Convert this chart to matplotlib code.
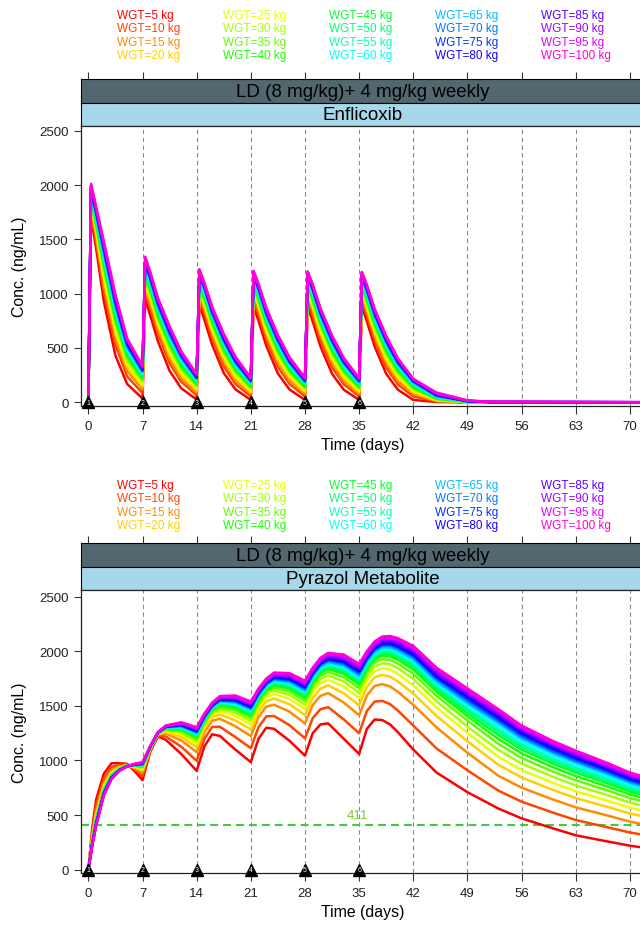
import colorsys
import numpy as np
import matplotlib
matplotlib.use('Agg')
import matplotlib.pyplot as plt

plt.rcParams['font.family'] = ['Liberation Sans', 'DejaVu Sans']

# ---- data ----
weights = [5, 10, 15, 20, 25, 30, 35, 40, 45, 50, 55, 60, 65, 70, 75, 80, 85, 90, 95, 100]
dose_days = [0, 7, 14, 21, 28, 35]
regimen = 'LD (8 mg/kg)+ 4 mg/kg weekly'
drugs = ['Enflicoxib', 'Pyrazol Metabolite']
met_ref = 411

# Enflicoxib, one row per time point, one column per weight
enf_days = [0, 0.35, 1, 2, 3.5, 5, 7, 7.35, 8, 9, 10.5, 12, 14, 14.35, 15, 16, 17.5, 19, 21,
            21.35, 22, 23, 24.5, 26, 28, 28.35, 29, 30, 31.5, 33, 35, 35.35, 36, 37, 38.5, 40, 42,
            45, 49, 52, 80]
enf_conc = [
    [0] * 20,
    [1700, 1750, 1790, 1820, 1840, 1860, 1870, 1890, 1900, 1920, 1930, 1940, 1950, 1960, 1970, 1980, 1990, 1990, 2000, 2010],
    [1420, 1480, 1530, 1560, 1590, 1610, 1630, 1650, 1670, 1690, 1700, 1710, 1730, 1740, 1750, 1760, 1770, 1780, 1790, 1800],
    [930, 1020, 1080, 1130, 1170, 1210, 1240, 1270, 1290, 1320, 1340, 1350, 1380, 1390, 1410, 1430, 1440, 1450, 1470, 1480],
    [430, 530, 590, 640, 680, 720, 740, 770, 800, 820, 840, 860, 880, 900, 920, 930, 950, 960, 980, 990],
    [170, 240, 290, 330, 360, 380, 410, 430, 450, 460, 480, 490, 510, 520, 540, 550, 560, 570, 580, 590],
    [35, 85, 120, 145, 165, 190, 205, 220, 235, 245, 255, 265, 280, 285, 295, 305, 310, 320, 330, 335],
    [950, 1020, 1060, 1090, 1120, 1150, 1170, 1190, 1210, 1220, 1240, 1250, 1270, 1280, 1290, 1300, 1310, 1320, 1330, 1340],
    [800, 870, 910, 950, 980, 1000, 1020, 1040, 1060, 1080, 1100, 1110, 1120, 1140, 1150, 1160, 1170, 1180, 1190, 1200],
    [560, 630, 670, 710, 740, 760, 780, 800, 820, 840, 860, 870, 880, 900, 910, 920, 930, 940, 950, 960],
    [290, 360, 400, 440, 470, 500, 520, 540, 560, 580, 590, 610, 620, 630, 650, 660, 670, 680, 690, 700],
    [130, 190, 220, 260, 280, 300, 320, 340, 350, 370, 380, 390, 410, 420, 430, 440, 440, 450, 460, 470],
    [25, 65, 90, 110, 130, 145, 155, 170, 180, 190, 200, 205, 215, 220, 230, 235, 240, 250, 255, 260],
    [900, 960, 990, 1020, 1040, 1070, 1080, 1100, 1120, 1130, 1140, 1150, 1160, 1170, 1180, 1190, 1200, 1210, 1220, 1225],
    [760, 820, 860, 890, 910, 930, 950, 970, 980, 1000, 1010, 1020, 1040, 1050, 1060, 1070, 1070, 1080, 1090, 1100],
    [530, 590, 630, 660, 680, 710, 730, 740, 760, 780, 790, 800, 810, 820, 840, 850, 850, 860, 870, 880],
    [270, 330, 370, 400, 430, 450, 470, 490, 510, 520, 540, 550, 560, 570, 580, 590, 600, 610, 620, 630],
    [120, 170, 200, 230, 250, 270, 290, 300, 320, 330, 340, 350, 360, 370, 380, 390, 400, 405, 415, 420],
    [22, 55, 80, 95, 110, 125, 135, 145, 155, 165, 170, 180, 185, 195, 200, 205, 210, 215, 220, 225],
    [880, 940, 980, 1010, 1030, 1050, 1070, 1090, 1100, 1120, 1130, 1140, 1150, 1160, 1170, 1180, 1190, 1195, 1205, 1210],
    [750, 810, 850, 880, 900, 920, 940, 960, 970, 990, 1000, 1010, 1030, 1040, 1050, 1060, 1060, 1070, 1080, 1090],
    [520, 580, 620, 650, 670, 700, 720, 730, 750, 770, 780, 790, 800, 810, 830, 840, 840, 850, 860, 870],
    [265, 325, 365, 395, 420, 445, 465, 480, 500, 515, 530, 540, 555, 565, 575, 585, 590, 600, 610, 620],
    [118, 170, 200, 228, 250, 270, 285, 300, 315, 325, 338, 347, 358, 368, 376, 385, 391, 400, 409, 415],
    [22, 55, 80, 95, 110, 125, 135, 145, 155, 165, 170, 180, 185, 195, 200, 205, 210, 215, 220, 225],
    [880, 940, 980, 1010, 1030, 1050, 1065, 1085, 1100, 1115, 1125, 1135, 1150, 1160, 1170, 1178, 1185, 1192, 1200, 1205],
    [745, 805, 845, 875, 900, 920, 935, 955, 970, 985, 1000, 1010, 1025, 1035, 1045, 1055, 1060, 1070, 1078, 1085],
    [515, 575, 615, 645, 670, 695, 715, 730, 745, 765, 775, 785, 800, 810, 825, 835, 840, 850, 858, 865],
    [262, 322, 362, 392, 418, 442, 462, 478, 496, 512, 526, 537, 552, 562, 572, 582, 588, 598, 607, 615],
    [117, 168, 198, 226, 248, 268, 283, 298, 312, 323, 335, 344, 355, 365, 373, 382, 388, 396, 404, 410],
    [22, 55, 78, 95, 108, 123, 133, 143, 153, 162, 170, 177, 184, 192, 198, 204, 208, 213, 218, 222],
    [880, 940, 975, 1005, 1025, 1045, 1060, 1080, 1095, 1110, 1120, 1130, 1145, 1155, 1165, 1175, 1182, 1190, 1196, 1200],
    [745, 800, 840, 870, 895, 915, 930, 950, 965, 980, 995, 1005, 1020, 1030, 1040, 1050, 1056, 1066, 1074, 1080],
    [515, 575, 610, 640, 665, 690, 710, 725, 740, 760, 770, 780, 795, 805, 820, 830, 835, 845, 853, 860],
    [262, 320, 360, 390, 415, 440, 460, 475, 493, 508, 522, 533, 548, 558, 568, 578, 585, 595, 603, 610],
    [117, 165, 196, 224, 245, 265, 280, 295, 308, 320, 332, 341, 352, 362, 370, 379, 385, 393, 400, 405],
    [22, 54, 77, 94, 107, 121, 131, 141, 151, 160, 168, 175, 182, 190, 196, 202, 206, 210, 213, 215],
    [3, 8, 13, 18, 22, 27, 31, 35, 40, 44, 48, 52, 56, 60, 64, 68, 73, 78, 84, 90],
    [0, 0, 1, 1, 2, 2, 3, 4, 5, 6, 7, 8, 9, 10, 11, 12, 13, 15, 16, 18],
    [0, 0, 0, 0, 0, 0, 0, 0, 1, 1, 1, 1, 2, 2, 2, 3, 3, 4, 4, 5],
    [0] * 20,
]

# Pyrazol metabolite, same layout
met_days = [0, 0.5, 1, 2, 3, 4, 5, 6, 7, 8, 9, 10, 12, 14, 15, 16, 17, 19, 21, 22, 23, 24, 26, 28,
            29, 30, 31, 33, 35, 36, 37, 38, 39, 40, 42, 45, 49, 53, 56, 60, 63, 67, 70, 75]
met_conc = [
    [0] * 20,
    [380, 343, 311, 294, 281, 271, 263, 257, 254, 250, 247, 244, 241, 238, 235, 233, 230, 226, 223, 220],
    [640, 585, 537, 510, 491, 477, 465, 455, 450, 446, 441, 436, 431, 426, 423, 419, 414, 410, 405, 400],
    [880, 834, 794, 772, 756, 744, 734, 726, 722, 718, 714, 710, 706, 702, 699, 696, 692, 688, 684, 680],
    [975, 942, 913, 897, 885, 876, 869, 863, 860, 858, 855, 852, 849, 846, 844, 842, 839, 836, 833, 830],
    [975, 959, 945, 937, 932, 927, 924, 921, 920, 918, 917, 915, 914, 913, 912, 911, 909, 908, 906, 905],
    [970, 964, 959, 956, 955, 953, 952, 951, 950, 950, 949, 949, 948, 948, 947, 947, 947, 946, 946, 945],
    [900, 916, 930, 938, 943, 948, 951, 954, 955, 957, 958, 960, 961, 962, 963, 964, 966, 967, 969, 970],
    [820, 858, 891, 909, 922, 932, 940, 947, 950, 954, 957, 960, 964, 967, 969, 972, 975, 978, 982, 985],
    [1080, 1092, 1102, 1107, 1111, 1114, 1117, 1119, 1120, 1121, 1122, 1123, 1124, 1125, 1125, 1126, 1127, 1128, 1129, 1130],
    [1220, 1229, 1237, 1242, 1245, 1247, 1249, 1251, 1252, 1252, 1253, 1254, 1255, 1256, 1256, 1257, 1258, 1258, 1259, 1260],
    [1190, 1220, 1246, 1260, 1271, 1278, 1285, 1290, 1293, 1295, 1298, 1301, 1303, 1306, 1308, 1310, 1312, 1315, 1317, 1320],
    [1060, 1127, 1185, 1217, 1240, 1257, 1272, 1283, 1289, 1295, 1301, 1307, 1312, 1318, 1322, 1327, 1333, 1338, 1344, 1350],
    [905, 997, 1077, 1121, 1153, 1177, 1197, 1213, 1221, 1229, 1237, 1245, 1253, 1261, 1267, 1273, 1281, 1289, 1297, 1305],
    [1130, 1199, 1259, 1292, 1316, 1334, 1349, 1361, 1367, 1373, 1379, 1385, 1391, 1397, 1402, 1406, 1412, 1418, 1424, 1430],
    [1240, 1307, 1365, 1397, 1420, 1437, 1452, 1463, 1469, 1475, 1481, 1487, 1492, 1498, 1502, 1507, 1513, 1518, 1524, 1530],
    [1225, 1309, 1382, 1422, 1451, 1473, 1491, 1506, 1513, 1521, 1528, 1535, 1543, 1550, 1555, 1561, 1568, 1575, 1583, 1590],
    [1100, 1214, 1313, 1367, 1407, 1437, 1461, 1481, 1491, 1501, 1511, 1521, 1531, 1541, 1548, 1555, 1565, 1575, 1585, 1595],
    [985, 1113, 1224, 1285, 1329, 1362, 1390, 1412, 1423, 1435, 1446, 1457, 1468, 1479, 1487, 1496, 1507, 1518, 1529, 1540],
    [1200, 1306, 1398, 1448, 1485, 1513, 1536, 1554, 1563, 1573, 1582, 1591, 1600, 1609, 1616, 1623, 1632, 1642, 1651, 1660],
    [1300, 1404, 1494, 1543, 1579, 1606, 1629, 1647, 1656, 1665, 1674, 1683, 1692, 1701, 1707, 1714, 1723, 1732, 1741, 1750],
    [1290, 1408, 1511, 1568, 1609, 1640, 1666, 1687, 1697, 1707, 1717, 1728, 1738, 1748, 1756, 1764, 1774, 1784, 1795, 1805],
    [1180, 1323, 1447, 1515, 1564, 1602, 1633, 1657, 1670, 1682, 1695, 1707, 1719, 1732, 1741, 1750, 1763, 1775, 1788, 1800],
    [1045, 1203, 1340, 1415, 1470, 1511, 1545, 1572, 1586, 1600, 1614, 1627, 1641, 1655, 1665, 1675, 1689, 1703, 1716, 1730],
    [1250, 1388, 1508, 1574, 1622, 1658, 1688, 1712, 1724, 1736, 1748, 1760, 1772, 1784, 1793, 1802, 1814, 1826, 1838, 1850],
    [1330, 1470, 1592, 1659, 1708, 1745, 1775, 1800, 1812, 1824, 1836, 1849, 1861, 1873, 1882, 1891, 1903, 1916, 1928, 1940],
    [1340, 1488, 1617, 1688, 1740, 1779, 1811, 1837, 1850, 1862, 1875, 1888, 1901, 1914, 1924, 1933, 1946, 1959, 1972, 1985],
    [1200, 1377, 1531, 1616, 1677, 1724, 1762, 1793, 1808, 1824, 1839, 1855, 1870, 1885, 1897, 1908, 1924, 1939, 1955, 1970],
    [1060, 1250, 1415, 1506, 1572, 1621, 1662, 1695, 1712, 1728, 1745, 1761, 1778, 1794, 1807, 1819, 1836, 1852, 1869, 1885],
    [1290, 1453, 1595, 1673, 1730, 1773, 1808, 1837, 1851, 1865, 1879, 1894, 1908, 1922, 1933, 1943, 1957, 1972, 1986, 2000],
    [1375, 1539, 1682, 1761, 1818, 1861, 1897, 1926, 1940, 1954, 1968, 1983, 1997, 2011, 2022, 2033, 2047, 2061, 2076, 2090],
    [1370, 1546, 1699, 1783, 1844, 1890, 1928, 1959, 1974, 1990, 2005, 2020, 2036, 2051, 2062, 2074, 2089, 2104, 2120, 2135],
    [1330, 1516, 1678, 1767, 1832, 1881, 1921, 1954, 1970, 1986, 2002, 2019, 2035, 2051, 2063, 2075, 2091, 2108, 2124, 2140],
    [1260, 1458, 1630, 1724, 1793, 1845, 1888, 1922, 1939, 1957, 1974, 1991, 2008, 2025, 2038, 2051, 2068, 2086, 2103, 2120],
    [1100, 1319, 1509, 1613, 1689, 1746, 1794, 1832, 1851, 1870, 1889, 1908, 1927, 1946, 1960, 1974, 1993, 2012, 2031, 2050],
    [890, 1111, 1303, 1408, 1485, 1543, 1591, 1629, 1648, 1668, 1687, 1706, 1725, 1744, 1759, 1773, 1792, 1812, 1831, 1850],
    [710, 910, 1071, 1176, 1252, 1309, 1366, 1404, 1432, 1461, 1480, 1508, 1527, 1546, 1565, 1584, 1603, 1622, 1641, 1660],
    [560, 724, 860, 960, 1033, 1097, 1152, 1197, 1233, 1261, 1288, 1315, 1343, 1361, 1379, 1397, 1415, 1434, 1452, 1470],
    [470, 623, 751, 844, 912, 972, 1023, 1065, 1099, 1125, 1150, 1176, 1201, 1218, 1235, 1252, 1269, 1286, 1303, 1320],
    [380, 524, 644, 732, 796, 852, 900, 940, 972, 996, 1020, 1044, 1068, 1084, 1100, 1116, 1132, 1148, 1164, 1180],
    [315, 455, 571, 656, 718, 772, 819, 858, 889, 912, 935, 958, 982, 997, 1013, 1028, 1044, 1059, 1075, 1090],
    [260, 390, 498, 577, 634, 685, 728, 764, 793, 814, 836, 858, 879, 894, 908, 922, 937, 951, 966, 980],
    [220, 341, 441, 515, 568, 615, 656, 689, 716, 736, 756, 776, 796, 810, 823, 836, 850, 863, 877, 890],
    [170, 280, 371, 438, 487, 530, 567, 597, 621, 640, 658, 676, 695, 707, 719, 731, 743, 756, 768, 780],
]

# ---- styling ----
W, H = 640.0, 929.0
cols = [colorsys.hsv_to_rgb(0.86 * i / (len(weights) - 1), 1, 1) for i in range(len(weights))]
xlim = (-0.95, 71.95)
xticks = list(range(0, 71, 7))


def box(x0, y0, x1, y1):
    # pixel box (from top-left) -> figure rect
    return [x0 / W, 1 - y1 / H, (x1 - x0) / W, (y1 - y0) / H]


def panel(fig, days, conc, drug, leg_y, strip_y, ax_y1, ylim, ref=None):
    conc = np.array(conc, dtype=float)

    # colour key above the panel
    for i, w in enumerate(weights):
        c, r = divmod(i, 4)
        fig.text((117 + 106 * c) / W, 1 - (leg_y + 13.4 * r) / H, 'WGT=%d kg' % w,
                 color=cols[i], fontsize=8.5, ha='left', va='center')

    # strips
    s1 = fig.add_axes(box(81, strip_y, 645, strip_y + 23.5))
    s1.set_facecolor('#52686e')
    s1.set_xlim(xlim)
    s1.set_xticks(xticks)
    s1.set_yticks([])
    s1.tick_params(axis='x', top=True, bottom=False, labelbottom=False, direction='out',
                   length=5, width=0.8, color='#333333')
    s1.text(0.5, 0.47, regimen, transform=s1.transAxes, ha='center', va='center', fontsize=13.5)
    s2 = fig.add_axes(box(81, strip_y + 23.5, 645, strip_y + 47))
    s2.set_facecolor('#a7d8ea')
    s2.set_xticks([])
    s2.set_yticks([])
    s2.text(0.5, 0.47, drug, transform=s2.transAxes, ha='center', va='center', fontsize=13.5)
    for s in (s1, s2):
        for sp in s.spines.values():
            sp.set_linewidth(0.8)

    ax = fig.add_axes(box(81, strip_y + 47, 645, ax_y1))
    ax.set_xlim(xlim)
    ax.set_ylim(ylim)
    for d in xticks[1:] + [77]:
        ax.axvline(d, color='#8a8a8a', lw=0.8, ls=(0, (4, 3)), zorder=1)
    if ref is not None:
        ax.axhline(ref, color='#44c844', lw=1.5, ls=(0, (3.8, 2.4)), zorder=2)
        ax.annotate(str(ref), (35, ref), xytext=(-1, 7), textcoords='offset points',
                    ha='center', va='center', color='#77cc33', fontsize=9.5)
    for i in range(len(weights)):
        ax.plot(days, conc[:, i], color=cols[i], lw=1.8, zorder=3)

    ax.plot(dose_days, [0] * len(dose_days), '^', color='black', ms=8, clip_on=False, zorder=6)
    for k, d in enumerate(dose_days):
        ax.text(d, 0, str(k + 1), color='white', fontsize=5, ha='center', va='center',
                zorder=7, clip_on=False)

    ax.set_xticks(xticks)
    ax.set_yticks([0, 500, 1000, 1500, 2000, 2500])
    ax.tick_params(axis='x', direction='out', length=5.5, pad=4.8, labelsize=9.5,
                   width=0.8, color='#333333', labelcolor='#222222')
    ax.tick_params(axis='y', direction='out', length=5.4, pad=3.6, labelsize=9.5,
                   width=0.8, color='#333333', labelcolor='#222222')
    ax.spines['right'].set_visible(False)
    for k in ('left', 'bottom', 'top'):
        ax.spines[k].set_linewidth(0.9)
        ax.spines[k].set_color('#222222')

    fig.text(20 / W, 1 - (strip_y + 47 + ax_y1) / 2 / H, 'Conc. (ng/mL)', rotation=90,
             ha='center', va='center', fontsize=11.4)
    fig.text(363 / W, 1 - (ax_y1 + 39) / H, 'Time (days)', ha='center', va='center', fontsize=11.4)
    return ax


fig = plt.figure(figsize=(6.4, 9.29), dpi=100)
panel(fig, enf_days, enf_conc, drugs[0], 16, 80, 406.7, (-31, 2543))
panel(fig, met_days, met_conc, drugs[1], 486, 544, 874, (-30, 2561), ref=met_ref)
fig.savefig('out.png', dpi=100)
